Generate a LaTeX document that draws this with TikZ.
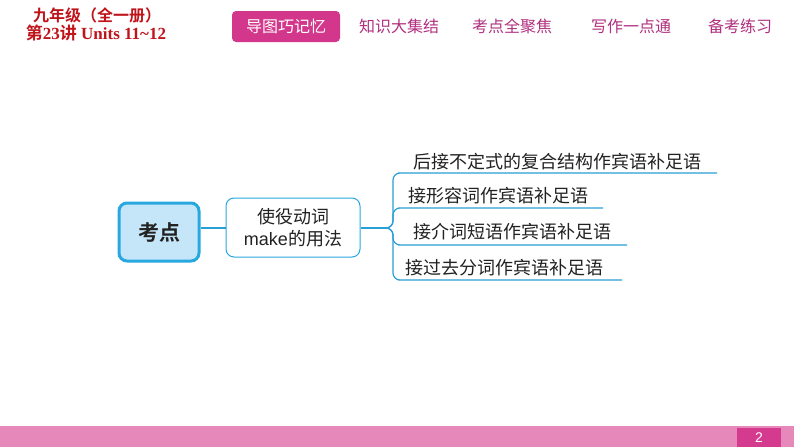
\documentclass[tikz,border=0pt]{standalone}
\usepackage{fontspec}
\setmainfont{Liberation Serif}
\setsansfont{Liberation Sans}
\newfontfamily\cjk{Noto Sans CJK SC}
\newfontfamily\cjkb{Noto Sans CJK SC}[BoldFont={* Bold}]
\definecolor{hdrred}{HTML}{C0141B}
\definecolor{tabpink}{HTML}{D2378C}
\definecolor{tabtext}{HTML}{B0307F}
\definecolor{bblue}{HTML}{29A8E0}
\definecolor{bfill}{HTML}{C5E6F8}
\definecolor{lblue}{HTML}{2A9FD6}
\definecolor{foot}{HTML}{E688B9}
\definecolor{footbox}{HTML}{D43A8E}
\definecolor{txt}{HTML}{222222}
\tikzset{
  tabtxt/.style={text=tabtext, font=\cjk\fontsize{16}{18}\selectfont, inner sep=0pt},
  branchtxt/.style={text=txt, font=\cjk\fontsize{18}{20}\selectfont, inner sep=0pt, anchor=west},
  conn/.style={draw=lblue, line width=1.2pt},
}
\begin{document}
\begin{tikzpicture}[x=1pt,y=-1pt]
\useasboundingbox (0,0) rectangle (794,447);
\fill[white] (0,0) rectangle (794,447);
% header left
\node[text=hdrred, font=\cjkb\bfseries\fontsize{16}{18}\selectfont, inner sep=0pt] (h1) at (97,15) {九年级（全一册）};
\node[text=hdrred, font=\bfseries\fontsize{17}{18}\selectfont, inner sep=0pt] (h2) at (96,33) {{\cjkb\bfseries 第}23{\cjkb\bfseries 讲} Units 11\textasciitilde 12};
% tabs
\node[fill=tabpink, rounded corners=4pt, minimum width=108pt, minimum height=31pt, text=white, font=\cjk\fontsize{16}{18}\selectfont, inner sep=0pt] (t1) at (286,26.5) {导图巧记忆};
\node[tabtxt] (t2) at (399,26) {知识大集结};
\node[tabtxt] (t3) at (512,26) {考点全聚焦};
\node[tabtxt] (t4) at (631,26) {写作一点通};
\node[tabtxt] (t5) at (740,26) {备考练习};
% footer
\fill[foot] (0,426) rectangle (794,447);
\node[fill=footbox, minimum width=44pt, minimum height=19pt, inner sep=0pt, text=white, font=\sffamily\fontsize{14}{15}\selectfont] (pg) at (759,437.5) {2};
% main nodes
\node[draw=bblue, line width=3pt, fill=bfill, rounded corners=8pt, minimum width=80pt, minimum height=58pt, inner sep=0pt, font=\cjkb\bfseries\fontsize{21}{23}\selectfont, text=txt] (kd) at (159,232) {考点};
\node[draw=bblue, line width=1pt, fill=white, rounded corners=8pt, minimum width=134pt, minimum height=59pt, inner sep=0pt, align=center, font=\cjk\fontsize{18}{22}\selectfont, text=txt] (sy) at (293,227.5) {使役动词\\{\sffamily make}的用法};
\coordinate (bp) at (388,228);
\draw[conn] (kd.east |- bp) -- (sy.west |- bp);
\draw[conn] (sy.east |- bp) -- (bp);
% branches
\coordinate (e1) at (717,173);
\coordinate (e2) at (603,208);
\coordinate (e3) at (627,245);
\coordinate (e4) at (622,280);
\draw[conn, rounded corners=7pt] (bp) -- (393,228) -- (393,173) -- (405,173) -- (e1);
\draw[conn, rounded corners=7pt] (bp) -- (393,228) -- (393,208) -- (405,208) -- (e2);
\draw[conn, rounded corners=7pt] (bp) -- (393,228) -- (393,245) -- (405,245) -- (e3);
\draw[conn, rounded corners=7pt] (bp) -- (393,228) -- (393,280) -- (405,280) -- (e4);
\node[branchtxt] (b1) at (413,162) {后接不定式的复合结构作宾语补足语};
\node[branchtxt] (b2) at (408,196) {接形容词作宾语补足语};
\node[branchtxt] (b3) at (413,232) {接介词短语作宾语补足语};
\node[branchtxt] (b4) at (405,268) {接过去分词作宾语补足语};
\end{tikzpicture}
\end{document}
